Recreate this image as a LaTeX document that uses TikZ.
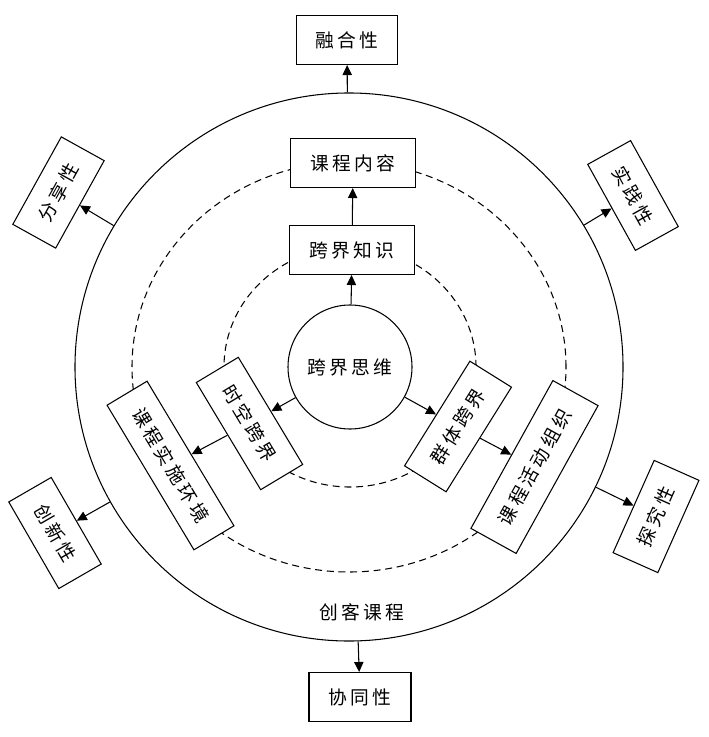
\documentclass[tikz,border=0pt]{standalone}
\usepackage{fontspec}
\newfontfamily\cjk[LetterSpace=18]{Noto Sans CJK SC}
\usetikzlibrary{arrows.meta}

\begin{document}
\begin{tikzpicture}[x=0.03cm, y=-0.03cm, >={Triangle[length=3mm, width=2.8mm]}, line width=0.9pt,
  every node/.style={font=\cjk\fontsize{16}{19}\selectfont},
  box/.style={draw, fill=white, inner sep=0pt, minimum height=1.47cm},
  ring/.style={dash pattern=on 6pt off 4pt}]
  \useasboundingbox (0,0) rectangle (709,737);
  % rings
  \node[circle, draw, inner sep=0pt, minimum size=16.44cm] (course) at (349,367) {};
  \draw[ring] (349,367) ellipse [x radius=6.51cm, y radius=6.15cm];
  \draw[ring] (350,367) ellipse [x radius=3.78cm, y radius=3.6cm];
  \node (label) at (362,612) {创客课程};
  % core and inner boxes
  \node[circle, draw, fill=white, inner sep=0pt, minimum size=3.72cm] (core) at (350,367) {跨界思维};
  \node[box, minimum width=3.75cm] (zhishi) at (352,250) {跨界知识};
  \node[box, minimum width=3.75cm] (neirong) at (353,163) {课程内容};
  \node[box, minimum width=3.75cm, rotate=-59] (shikong) at (249.5,423.5) {时空跨界};
  \node[box, minimum width=5.06cm, minimum height=1.4cm, rotate=-59] (huanjing) at (170.5,465.5) {课程实施环境};
  \node[box, minimum width=3.7cm, rotate=58] (qunti) at (458,426.5) {群体跨界};
  \node[box, minimum width=5.07cm, minimum height=1.55cm, rotate=61] (huodong) at (534.5,467) {课程活动组织};
  % outer boxes
  \node[box, minimum width=3.03cm] (ronghe) at (347,40) {融合性};
  \node[box, minimum width=3.06cm] (xietong) at (360,697) {协同性};
  \node[box, minimum width=3cm, rotate=61] (fenxiang) at (58.5,192.5) {分享性};
  \node[box, minimum width=2.95cm, rotate=-61] (shijian) at (633,195.5) {实践性};
  \node[box, minimum width=3cm, rotate=-60] (chuangxin) at (55,533) {创新性};
  \node[box, minimum width=3.03cm, rotate=66] (tanjiu) at (656,516.5) {探究性};
  % arrows
  \draw[->] (core) -- (zhishi);
  \draw[->] (zhishi) -- (neirong);
  \draw[->] (core) -- (shikong);
  \draw[->] (shikong) -- (huanjing);
  \draw[->] (core) -- (qunti);
  \draw[->] (qunti) -- (huodong);
  \foreach \n in {ronghe, fenxiang, shijian, chuangxin, tanjiu, xietong}
    \draw[->] (course) -- (\n);
\end{tikzpicture}
\end{document}
